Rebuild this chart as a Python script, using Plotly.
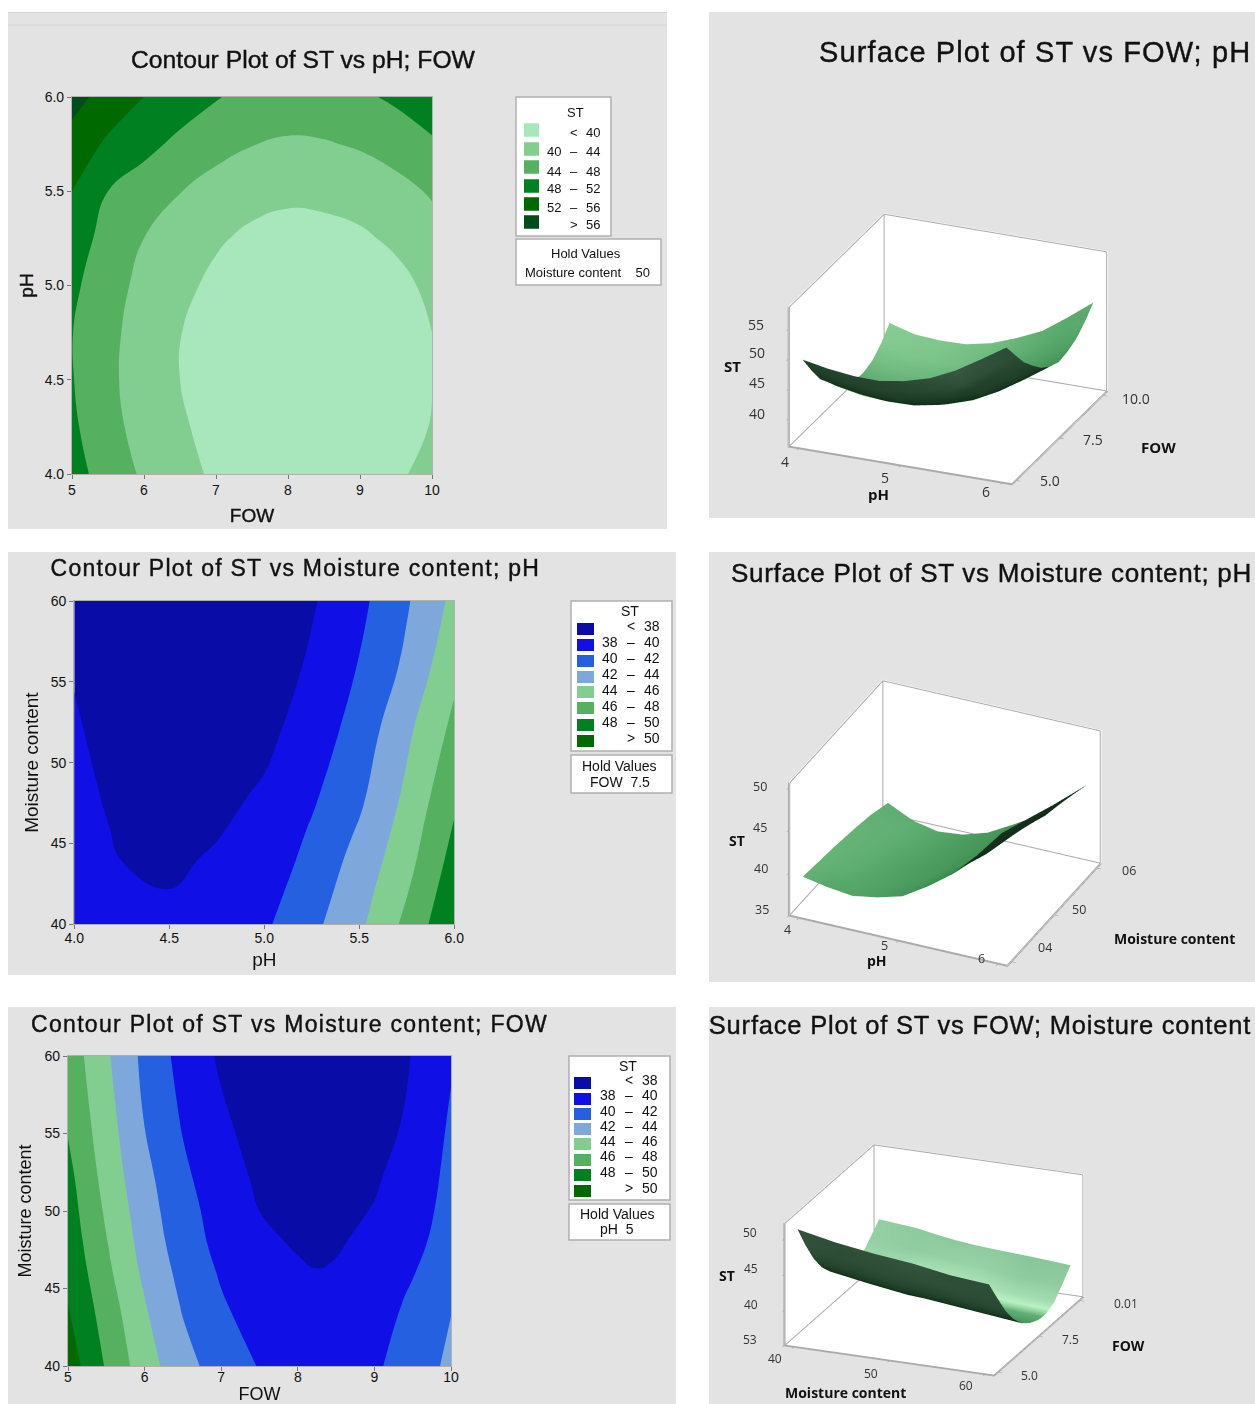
import json
import numpy as np
import plotly.graph_objects as go

W, H = 1255, 1404
FONT = "Liberation Sans"
PANEL = "#e3e3e3"
BORDER = "#b0b0b0"

# ---------- values ----------
fow_ticks = [5, 5.5, 6, 6.5, 7, 7.5, 8, 8.5, 9, 9.5, 10]
ph_rows = [4, 4.25, 4.5, 4.75, 5, 5.25, 5.5, 5.75, 6]
st_ph_fow = [
    [49.5, 46.3, 43.4, 41.4, 39.3, 38.0, 37.4, 37.4, 37.9, 39.3, 41.4],
    [48.7, 45.2, 42.6, 40.6, 38.5, 37.3, 36.5, 36.6, 37.0, 38.2, 40.2],
    [48.2, 44.8, 42.2, 40.0, 38.2, 37.0, 36.1, 36.2, 36.6, 37.8, 39.9],
    [48.1, 45.0, 42.3, 40.1, 38.3, 37.1, 36.3, 36.4, 36.8, 38.1, 40.0],
    [48.8, 45.6, 42.9, 41.0, 39.1, 37.8, 37.0, 37.2, 37.7, 38.8, 40.9],
    [50.0, 46.6, 44.0, 42.2, 40.5, 39.2, 38.6, 38.8, 39.4, 40.7, 42.5],
    [52.0, 48.0, 46.1, 44.1, 42.5, 41.4, 40.8, 41.0, 41.6, 42.8, 44.4],
    [54.6, 51.3, 49.1, 47.1, 45.3, 44.1, 43.5, 43.7, 44.4, 45.6, 47.4],
    [57.3, 54.6, 52.0, 50.0, 48.2, 47.0, 46.3, 46.6, 47.3, 48.7, 50.6],
]
ph_cols = [4, 4.25, 4.5, 4.75, 5, 5.25, 5.5, 5.75, 6]
moist_rows = [40, 42, 44, 46, 48, 52, 56, 60]
st_moist_ph = [
    [39.3, 38.75, 38.4, 38.9, 39.7, 41.5, 43.6, 46.5, 49.8],
    [39.15, 38.35, 38.03, 38.55, 39.25, 41.05, 43.15, 45.9, 49.25],
    [39.0, 37.98, 37.7, 38.2, 38.8, 40.6, 42.7, 45.3, 48.7],
    [38.85, 37.7, 37.35, 37.85, 38.55, 40.15, 42.15, 44.85, 48.15],
    [38.7, 37.4, 37.0, 37.5, 38.25, 39.7, 41.6, 44.4, 47.6],
    [38.3, 36.8, 36.3, 36.7, 37.5, 38.9, 40.8, 43.6, 46.5],
    [37.8, 36.2, 35.6, 36.0, 36.8, 38.3, 40.1, 42.4, 45.5],
    [37.0, 35.6, 35.0, 35.3, 36.2, 37.8, 39.5, 41.8, 44.5],
]
fow_ticks3 = [5, 5.5, 6, 6.5, 7, 7.5, 8, 8.25, 8.5, 9, 9.5, 10]
moist_rows3 = [40, 44, 46, 48, 50, 52, 56, 60]
st_moist_fow = [
    [51.1, 47.8, 44.9, 42.7, 41.1, 39.9, 38.9, 38.7, 38.7, 39.7, 41.0, 42.4],
    [50.0, 47.0, 44.1, 41.8, 40.2, 39.0, 38.4, 38.25, 38.3, 39.0, 40.4, 41.9],
    [49.6, 46.5, 43.6, 41.4, 39.8, 38.7, 38.2, 38.05, 38.15, 38.7, 39.9, 41.4],
    [49.2, 46.1, 43.2, 41.0, 39.4, 38.3, 37.85, 37.7, 37.85, 38.4, 39.4, 41.0],
    [48.9, 45.7, 42.9, 40.7, 39.2, 38.0, 37.55, 37.4, 37.5, 38.1, 39.1, 40.7],
    [48.6, 45.3, 42.6, 40.4, 38.9, 37.7, 37.2, 37.1, 37.2, 37.8, 38.9, 40.5],
    [47.7, 44.8, 41.9, 39.8, 38.3, 37.1, 36.5, 36.4, 36.4, 37.0, 38.4, 40.2],
    [47.2, 44.3, 41.5, 39.3, 37.7, 36.7, 36.1, 36.0, 36.0, 36.6, 38.1, 39.8],
]

green_colors = ["#a8e6bc", "#82cd90", "#55b060", "#008020", "#006a00", "#004d1a"]
blue_colors = ["#0a0ca8", "#1010e6", "#2460e0", "#7ea8dc", "#82cd90", "#55b060", "#008020", "#006a00"]
green_labels = [("<", "40"), ("40", "44"), ("44", "48"), ("48", "52"), ("52", "56"), (">", "56")]
blue_labels = [("<", "38"), ("38", "40"), ("40", "42"), ("42", "44"), ("44", "46"), ("46", "48"), ("48", "50"), (">", "50")]

# tick labels of the three surface plots, as printed (the originals are partly mirrored)
s1_x = ["4", "5", "6"]
s1_y = ["5.0", "7.5", "10.0"]
s1_z = ["55", "50", "45", "40"]
s2_x = ["4", "5", "6"]
s2_y = ["04", "50", "06"]
s2_z = ["50", "45", "40", "35"]
s3_x = ["40", "50", "60"]
s3_y = ["5.0", "7.5", "0.01"]
s3_z = ["50", "45", "40", "53"]


def fx(px):
    return px / W


def fy(py):
    return 1 - py / H


shapes, annos = [], []
spacing = {}


def rect(x0, y0, x1, y1, fill, line=None, lw=1.5):
    shapes.append(dict(type="rect", xref="paper", yref="paper", x0=fx(x0), x1=fx(x1), y0=fy(y0), y1=fy(y1),
                       fillcolor=fill, line=dict(color=line or fill, width=lw if line else 0), layer="below"))


def text(px, py, s, size=13, anchor="center", bold=False, color="#111", angle=0, font=FONT):
    annos.append(dict(xref="paper", yref="paper", x=fx(px), y=fy(py), text=f"<b>{s}</b>" if bold else s,
                      showarrow=False, xanchor=anchor, yanchor="middle", textangle=angle,
                      font=dict(family=font, size=size, color=color)))


def title(cx, py, s, size, gap):
    text(cx, py, s, size)
    spacing[s] = gap


# panels
for p in [(8, 12, 667, 529), (709, 12, 1255, 518), (8, 552, 676, 975), (709, 552, 1255, 982),
          (8, 1007, 676, 1404), (709, 1007, 1255, 1404)]:
    rect(*p, PANEL)
shapes.append(dict(type="line", xref="paper", yref="paper", x0=fx(8), x1=fx(667), y0=fy(12.5), y1=fy(12.5),
                   line=dict(color="#d2d2d2", width=1), layer="below"))
shapes.append(dict(type="line", xref="paper", yref="paper", x0=fx(8), x1=fx(667), y0=fy(25), y1=fy(25),
                   line=dict(color="#d6d6d6", width=1), layer="below"))

fig = go.Figure()
layout_axes = {}


def contour(idx, x, y, z, start, end, size, colors, box, xticks, yticks, xt, yt, tickfmt, xstand, ystand, lstand, tsize, tit):
    sfx = "" if idx == 1 else str(idx)
    cs = [[i / (len(colors) - 1), c] for i, c in enumerate(colors)]
    fig.add_trace(go.Contour(x=x, y=y, z=z, xaxis=f"x{sfx}", yaxis=f"y{sfx}", showscale=False,
                             colorscale=cs, autocontour=False, line=dict(width=0, smoothing=1.3),
                             contours=dict(start=start, end=end, size=size, coloring="fill", showlines=False),
                             hoverinfo="skip"))
    x0, y0, x1, y1 = box
    common = dict(showgrid=False, zeroline=False, showline=True, linecolor=BORDER, linewidth=1.2, mirror=True,
                  ticks="outside", ticklen=4, tickcolor="#777", tickfont=dict(family=FONT, size=tsize, color="#111"))
    layout_axes[f"xaxis{sfx}"] = dict(domain=[fx(x0), fx(x1)], anchor=f"y{sfx}", range=[x[0], x[-1]], tickvals=xticks,
                                      tickformat=tickfmt[0], ticklabelstandoff=lstand,
                                      title=dict(text=xt, standoff=xstand, font=dict(family=FONT, size=tit, color="#111")), **common)
    layout_axes[f"yaxis{sfx}"] = dict(domain=[fy(y1), fy(y0)], anchor=f"x{sfx}", range=[y[0], y[-1]], tickvals=yticks,
                                      tickformat=tickfmt[1],
                                      title=dict(text=yt, standoff=ystand, font=dict(family=FONT, size=tit, color="#111")), **common)


contour(1, fow_ticks, ph_rows, st_ph_fow, 40, 56, 4, green_colors, (72, 97, 432, 474),
        [5, 6, 7, 8, 9, 10], [4, 4.5, 5, 5.5, 6], "FOW", "pH", ("d", ".1f"), 11, 5, -1, 14, 19)
contour(2, ph_cols, moist_rows, st_moist_ph, 38, 50, 2, blue_colors, (74.3, 601, 454.3, 924.3),
        [4, 4.5, 5, 5.5, 6], [40, 45, 50, 55, 60], "pH", "Moisture content", (".1f", "d"), 7, 7, -3, 14, 19)
contour(3, fow_ticks3, moist_rows3, st_moist_fow, 38, 50, 2, blue_colors, (68, 1056, 451, 1366),
        [5, 6, 7, 8, 9, 10], [40, 45, 50, 55, 60], "FOW", "Moisture content", ("d", "d"), 20, 8, -6, 14, 18)


def legend(box, hold, swx, swrows, txtrows, colors, labels, stpos, cols, holdlines, size, swh):
    rect(*box, "white", BORDER)
    rect(*hold, "white", BORDER)
    text(stpos[0], stpos[1], "ST", size)
    for ys, yy, c, (a, b) in zip(swrows, txtrows, colors, labels):
        rect(swx[0], ys - swh / 2, swx[1], ys + swh / 2, c)
        if a in "<>":
            text(cols[1], yy, a, size)
        else:
            text(cols[0], yy, a, size)
            text(cols[1], yy, "\u2013", size)
        text(cols[2], yy, b, size)
    for (px, py, s) in holdlines:
        text(px, py, s, size)


legend((516, 97, 611, 236), (516, 239, 661, 285), (524, 539), [130, 149, 167, 186, 204, 222], [132, 152, 171, 189, 207, 225],
       green_colors, green_labels, (575, 112), (554, 574, 593),
       [(586, 254, "Hold Values"), (587, 272, "Moisture content    50")], 13, 13.5)
legend((571, 601, 672, 751), (571, 755, 672, 793), (577, 594), [629, 645, 661, 677, 692, 708, 725, 741],
       [626, 642, 658, 674, 690, 706, 722, 738], blue_colors, blue_labels, (630, 611), (610, 631, 652),
       [(619, 766, "Hold Values"), (620, 782, "FOW  7.5")], 14, 12)
legend((569, 1056, 670, 1200), (569, 1204, 670, 1240), (574, 591), [1083, 1099, 1114, 1129, 1144, 1160, 1175, 1191],
       [1080, 1095, 1111, 1126, 1141, 1156, 1172, 1188], blue_colors, blue_labels, (628, 1066), (608, 629, 650),
       [(617, 1214, "Hold Values"), (617, 1229, "pH  5")], 14, 12)

# titles
title(303, 60, "Contour Plot of ST vs pH; FOW", 24.7, 0)
title(295, 568, "Contour Plot of ST vs Moisture content; pH", 23, 1.26)
title(289.5, 1024, "Contour Plot of ST vs Moisture content; FOW", 23, 1.3)
title(1035, 52, "Surface Plot of ST vs FOW; pH", 29, 1.1)
title(991, 573, "Surface Plot of ST vs Moisture content; pH", 26, 0.72)
title(980, 1025, "Surface Plot of ST vs FOW; Moisture content", 25.5, 0.8)


def surface(idx, x, y, z, xr, yr, zr, xticks, yticks, zticks, aspect, eye, center, dom, scale):
    sid = "scene" if idx == 1 else f"scene{idx}"
    x, y, z = np.array(x, float), np.array(y, float), np.array(z, float)
    ex = np.array(eye) / np.linalg.norm(eye)
    sx = 2 * aspect[0] / (xr[1] - xr[0])
    sy = 2 * aspect[1] / (yr[1] - yr[0])
    sz = 2 * aspect[2] / (zr[1] - zr[0])
    dzdy, dzdx = np.gradient(z * sz, y * sy, x * sx)
    nrm = np.sqrt(dzdx ** 2 + dzdy ** 2 + 1)
    facing = (-dzdx * ex[0] - dzdy * ex[1] + ex[2]) / nrm  # which side of the sheet faces the camera
    fig.add_trace(go.Surface(x=x, y=y, z=z, surfacecolor=facing, cmin=-1, cmax=1, colorscale=scale, showscale=False,
                             scene=sid, hoverinfo="skip",
                             lighting=dict(ambient=1, diffuse=0, specular=0, roughness=1, fresnel=0)))
    # box outline of the original, kept a hair inside the walls so that it shows in front of them
    ix, iy, iz = [(r[1] - r[0]) * 0.004 for r in (xr, yr, zr)]
    a, b = xr[0] + ix, xr[1] - ix
    c, d = yr[0] + iy, yr[1] - iy
    e, f = zr[0] + iz, zr[1] - iz
    fig.add_trace(go.Scatter3d(x=[a, a, b, b, b, b, a, a, a, a, a, a, b],
                               y=[c, c, c, d, d, d, d, d, c, d, d, c, c],
                               z=[f, e, e, e, f, e, e, f, f, f, e, e, e],
                               mode="lines", line=dict(color="#aaaaaa", width=2), scene=sid, showlegend=False, hoverinfo="skip"))
    fig.add_trace(go.Scatter3d(x=[a, b], y=[d, d], z=[f, f], mode="lines", line=dict(color="#aaaaaa", width=2),
                               scene=sid, showlegend=False, hoverinfo="skip"))
    ax = dict(showgrid=False, zeroline=False, showbackground=True, backgroundcolor="white", showline=True,
              linecolor="#aaaaaa", linewidth=2,
              ticks="outside", ticklen=4, tickcolor="#888", showspikes=False, title=dict(text=""), showticklabels=False)
    w, h = dom
    layout_axes[sid] = dict(
        domain=dict(x=[fx(center[0] - w / 2), fx(center[0] + w / 2)], y=[fy(center[1] + h / 2), fy(center[1] - h / 2)]),
        xaxis=dict(range=xr, tickvals=xticks, **ax),
        yaxis=dict(range=yr, tickvals=yticks, **ax),
        zaxis=dict(range=zr, tickvals=zticks, **ax),
        aspectmode="manual", aspectratio=dict(x=aspect[0], y=aspect[1], z=aspect[2]),
        camera=dict(eye=dict(x=eye[0], y=eye[1], z=eye[2]), up=dict(x=0, y=0, z=1), center=dict(x=0, y=0, z=0),
                    projection=dict(type="orthographic")),
        bgcolor="rgba(0,0,0,0)")


scale1 = [[0, "#4a6f55"], [0.25, "#3b5c45"], [0.42, "#1c3a24"], [0.4995, "#0e2816"],
          [0.5, "#3a8a4c"], [0.7, "#58a86c"], [0.9, "#82c98f"], [1, "#90d49c"]]
scale3 = [[0, "#4a6f55"], [0.25, "#3f604a"], [0.42, "#1c3a24"], [0.4995, "#0e2816"],
          [0.5, "#3e8a52"], [0.68, "#5fae75"], [0.76, "#b8f2c4"], [0.84, "#9fd8ad"], [0.95, "#6fb383"], [1, "#6aa97d"]]

R = 3.5
surface(1, ph_rows, fow_ticks, np.array(st_ph_fow).T, [3.9, 6.1], [4.75, 10.25], [35.3, 58.8],
        [4, 5, 6], [5, 7.5, 10], [40, 45, 50, 55],
        (1.278, 1.311, 0.808), (R * .3505, R * -.8436, R * .4066), (948, 349), (500, 380), scale1)
surface(2, ph_cols, moist_rows, st_moist_ph, [3.9, 6.1], [39, 61], [35, 50.6],
        [4, 5, 6], [40, 50, 60], [35, 40, 45, 50],
        (1.269, 1.185, 0.812), (R * .3603, R * -.7858, R * .5027), (945, 823), (500, 380), scale1)
surface(3, moist_rows3, fow_ticks3, np.array(st_moist_fow).T, [39, 61], [4.75, 10.25], [35, 52.3],
        [40, 50, 60], [5, 7.5, 10], [35, 40, 45, 50],
        (1.577, 1.664, 0.913), (R * .35, R * -.8668, R * .3555), (934, 1260), (500, 288), scale3)

# 3-D tick labels and axis titles
TF = "Open Sans"
for (px, py), s in zip([(785, 461), (885, 478), (986, 492)], s1_x):
    text(px, py, s, 14, font=TF, color="#333")
for (px, py), s in zip([(1050, 481), (1093, 439), (1136, 398)], s1_y):
    text(px, py, s, 14, font=TF, color="#333")
for (px, py), s in zip([(756, 324), (757, 353), (757, 382), (757, 413)], s1_z):
    text(px, py, s, 14, font=TF, color="#333")
for (px, py), s in zip([(787, 929), (884, 945), (981, 958)], s2_x):
    text(px, py, s, 12.5, font=TF, color="#333")
for (px, py), s in zip([(1045, 947), (1079, 909), (1129, 870)], s2_y):
    text(px, py, s, 12.5, font=TF, color="#333")
for (px, py), s in zip([(760, 786), (760, 827), (761, 868), (762, 909)], s2_z):
    text(px, py, s, 12.5, font=TF, color="#333")
for (px, py), s in zip([(775, 1358), (871, 1373), (966, 1385)], s3_x):
    text(px, py, s, 12, font=TF, color="#333")
for (px, py), s in zip([(1029, 1375), (1070, 1339), (1126, 1303)], s3_y):
    text(px, py, s, 12, font=TF, color="#333")
for (px, py), s in zip([(750, 1232), (751, 1268), (751, 1304), (750, 1339)], s3_z):
    text(px, py, s, 12, font=TF, color="#333")

text(732, 366, "ST", 15, bold=True, font=TF)
text(878, 494, "pH", 15, bold=True, font=TF)
text(1158, 447, "FOW", 15, bold=True, font=TF)
text(737, 840, "ST", 14, bold=True, font=TF)
text(877, 960, "pH", 14, bold=True, font=TF)
text(1174, 938, "Moisture content", 14, bold=True, font=TF)
text(727, 1275, "ST", 14, bold=True, font=TF)
text(845, 1392, "Moisture content", 14, bold=True, font=TF)
text(1128, 1345, "FOW", 14, bold=True, font=TF)

fig.update_layout(width=W, height=H, margin=dict(l=0, r=0, t=0, b=0, autoexpand=False), paper_bgcolor="white", plot_bgcolor=PANEL,
                  showlegend=False, shapes=shapes, annotations=annos, **layout_axes)
js = ("document.body.style.margin='0';document.body.style.overflow='hidden';"
      "var gaps=" + json.dumps(spacing) + ";"
      "document.querySelectorAll('text').forEach(function(t){var g=gaps[t.textContent];"
      "if(g!==undefined){t.style.letterSpacing=g+'px';t.style.stroke='#111';t.style.strokeWidth='0.4px';}});"
      "document.querySelectorAll('.xtitle,.ytitle').forEach(function(t){t.style.stroke='#111';t.style.strokeWidth='0.4px';});")
fig.write_html("out.html", config=dict(displayModeBar=False), post_script=js)
